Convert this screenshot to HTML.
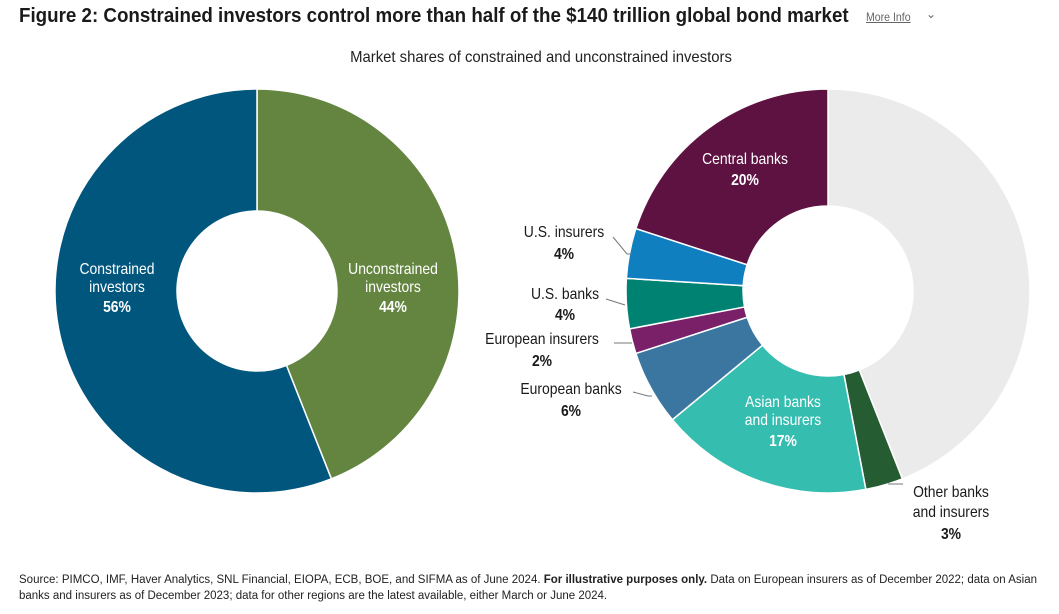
<!DOCTYPE html>
<html><head><meta charset="utf-8">
<style>
body{margin:0;background:#fff;width:1059px;height:614px;overflow:hidden;font-family:"Liberation Sans",sans-serif;}
#title{position:absolute;left:19px;top:4px;font-size:20.5px;font-weight:bold;color:#1a1a1a;white-space:nowrap;transform:scaleX(0.915);transform-origin:0 0;}
#more{position:absolute;left:866px;top:10px;font-size:12px;color:#666;text-decoration:underline;transform:scaleX(0.88);transform-origin:0 0;}
#chev{position:absolute;left:926px;top:7px;font-size:12px;color:#666;}
#foot{position:absolute;left:19px;top:572px;font-size:11.5px;color:#222;line-height:16px;}
svg{position:absolute;left:0;top:0}
</style></head><body>
<div id="title">Figure 2: Constrained investors control more than half of the $140 trillion global bond market</div>
<div id="more">More Info</div>
<div id="chev">&#8964;</div>
<svg id="chart" width="1059" height="614">
<text transform="translate(541,62) scale(0.93,1)" text-anchor="middle" font-size="16" fill="#222">Market shares of constrained and unconstrained investors</text>
</svg>
<div id="foot">Source: PIMCO, IMF, Haver Analytics, SNL Financial, EIOPA, ECB, BOE, and SIFMA as of June 2024. <b>For illustrative purposes only.</b> Data on European insurers as of December 2022; data on Asian<br>banks and insurers as of December 2023; data for other regions are the latest available, either March or June 2024.</div>
<script>
const leftLabels=["Unconstrained investors","Constrained investors"];
const leftValues=[44,56];
const leftColors=["#648540","#00567d"];
const rightLabels=["Rest of market","Other banks and insurers","Asian banks and insurers","European banks","European insurers","U.S. banks","U.S. insurers","Central banks"];
const rightValues=[44,3,17,6,2,4,4,20];
const rightColors=["#ebebeb","#265c32","#35bdb0","#3a76a0","#7a2068","#008272","#0f7fbf","#5e1242"];
const NS="http://www.w3.org/2000/svg";
const svg=document.getElementById('chart');
function pt(cx,cy,r,a){const t=a*Math.PI/180;return [cx+r*Math.sin(t),cy-r*Math.cos(t)];}
function donut(cx,cy,ro,ri,vals,cols,labels,prefix){
  const tot=vals.reduce((a,b)=>a+b,0);let a0=0;
  vals.forEach((v,i)=>{
    const a1=a0+v/tot*360;const large=(a1-a0)>180?1:0;
    const p1=pt(cx,cy,ro,a0),p2=pt(cx,cy,ro,a1),p3=pt(cx,cy,ri,a1),p4=pt(cx,cy,ri,a0);
    const p=document.createElementNS(NS,'path');
    p.setAttribute('d',`M${p1}A${ro},${ro} 0 ${large} 1 ${p2}L${p3}A${ri},${ri} 0 ${large} 0 ${p4}Z`);
    p.setAttribute('fill',cols[i]);p.setAttribute('stroke','#fff');p.setAttribute('stroke-width','1.5');
    
    
    svg.appendChild(p);a0=a1;
  });
}
donut(257,291,202,80,leftValues,leftColors,leftLabels,'left');
donut(828,291,202,85,rightValues,rightColors,rightLabels,'right');
function txt(x,y,s,bold,fill,anchor,name){
  const t=document.createElementNS(NS,'text');
  t.setAttribute('transform',`translate(${x},${y}) scale(0.87,1)`);
  t.setAttribute('font-size','16');
  t.setAttribute('fill',fill||'#1a1a1a');t.setAttribute('text-anchor',anchor||'middle');
  if(bold)t.setAttribute('font-weight','bold');t.textContent=s;
  
  
  svg.appendChild(t);
}
function line(pts,name){
  const l=document.createElementNS(NS,'polyline');
  l.setAttribute('points',pts);l.setAttribute('fill','none');l.setAttribute('stroke','#777');l.setAttribute('stroke-width','1');
  
  
  svg.appendChild(l);
}
const W='#fff';
txt(117,274,'Constrained',false,W,'middle','label-constrained');
txt(117,292,'investors',false,W,'middle','label-constrained-2');
txt(117,312,leftValues[1]+'%',true,W,'middle','value-constrained');
txt(393,274,'Unconstrained',false,W,'middle','label-unconstrained');
txt(393,292,'investors',false,W,'middle','label-unconstrained-2');
txt(393,312,leftValues[0]+'%',true,W,'middle','value-unconstrained');
txt(745,164,'Central banks',false,W,'middle','label-central-banks');
txt(745,185,rightValues[7]+'%',true,W,'middle','value-central-banks');
txt(783,407,'Asian banks',false,W,'middle','label-asian');
txt(783,425,'and insurers',false,W,'middle','label-asian-2');
txt(783,446,rightValues[2]+'%',true,W,'middle','value-asian');
txt(564,237,'U.S. insurers',false,null,'middle','label-us-insurers');
txt(564,259,rightValues[6]+'%',true,null,'middle','value-us-insurers');
line('613,237 627,254 632,254','leader-us-insurers');
txt(565,299,'U.S. banks',false,null,'middle','label-us-banks');
txt(565,320,rightValues[5]+'%',true,null,'middle','value-us-banks');
line('606,299 625,305','leader-us-banks');
txt(542,344,'European insurers',false,null,'middle','label-european-insurers');
txt(542,366,rightValues[4]+'%',true,null,'middle','value-european-insurers');
line('614,343 632,343','leader-european-insurers');
txt(571,394,'European banks',false,null,'middle','label-european-banks');
txt(571,416,rightValues[3]+'%',true,null,'middle','value-european-banks');
line('633,392 648,396 652,396','leader-european-banks');
txt(951,497,'Other banks',false,null,'middle','label-other-banks');
txt(951,517,'and insurers',false,null,'middle','label-other-banks-2');
txt(951,539,rightValues[1]+'%',true,null,'middle','value-other-banks');
line('888,484 903,484','leader-other-banks');
</script>
</body></html>
